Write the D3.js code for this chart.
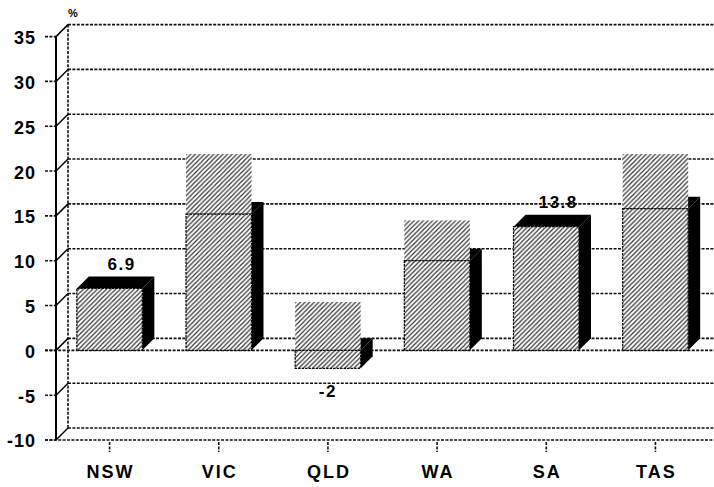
<!DOCTYPE html>
<html>
<head>
<meta charset="utf-8">
<script src="https://cdn.jsdelivr.net/npm/d3@7"></script>
<style>
  html, body { margin: 0; padding: 0; background: #fff; }
  svg { display: block; font-family: "Liberation Sans", Arial, sans-serif; }
</style>
</head>
<body>
<svg id="chart" width="714" height="487"></svg>
<script>
// Percentage change by state
const categories = ["NSW", "VIC", "QLD", "WA", "SA", "TAS"];
const values = [6.9, 15.2, -2, 10.0, 13.8, 15.8];
// Upper edge (in %) of the hatched panel drawn above some bars; null = none
const panelTop = [null, 21.9, 5.4, 14.5, null, 21.9];
// Value labels that are shown above/below bars
const valueLabels = ["6.9", null, "-2", null, "13.8", null];
const yTicks = [-10, -5, 0, 5, 10, 15, 20, 25, 30, 35];

const W = 714, H = 487;
const DX = 12, DY = 12; // depth offset of the 3D back plane

const svg = d3.select("#chart");

const x = d3.scaleBand()
  .domain(categories)
  .range([55, 710])
  .paddingInner(0.4)
  .paddingOuter(0.2);

const y = d3.scaleLinear().domain([-10, 35]).range([440, 36.6]);
const xLeft = 56;

// Diagonal hatch
const defs = svg.append("defs");
const P = 4.6;
const pat = defs.append("pattern")
  .attr("id", "hatch")
  .attr("patternUnits", "userSpaceOnUse")
  .attr("width", P).attr("height", P);
pat.append("rect").attr("width", P).attr("height", P).attr("fill", "#fff");
pat.append("path")
  .attr("d", `M${-P / 4},${P / 4} L${P / 4},${-P / 4} M0,${P} L${P},0 M${P * 0.75},${P * 1.25} L${P * 1.25},${P * 0.75}`)
  .attr("stroke", "#333").attr("stroke-width", 1.15);

const dash = "3,1.4";
const grid = svg.append("g")
  .attr("stroke", "#111").attr("stroke-width", 1.6)
  .attr("stroke-dasharray", dash).attr("fill", "none");

// Back wall grid lines
yTicks.forEach(t => {
  grid.append("line")
    .attr("x1", xLeft + DX).attr("x2", W)
    .attr("y1", y(t) - DY).attr("y2", y(t) - DY);
});
// Back wall vertical edge
grid.append("line")
  .attr("x1", xLeft + DX).attr("x2", xLeft + DX)
  .attr("y1", y(35) - DY).attr("y2", y(-10) - DY);
// Front edges at zero and at the floor
[0, -10].forEach(t => {
  grid.append("line")
    .attr("x1", xLeft - 11).attr("x2", W)
    .attr("y1", y(t)).attr("y2", y(t));
});
// Tick marks on the value axis
yTicks.forEach(t => {
  grid.append("line")
    .attr("x1", xLeft - 11).attr("x2", xLeft)
    .attr("y1", y(t)).attr("y2", y(t));
});
// Category tick marks under the floor
categories.forEach(c => {
  const cx = x(c) + x.bandwidth() / 2;
  grid.append("line")
    .attr("x1", cx).attr("x2", cx)
    .attr("y1", y(-10) + 2).attr("y2", y(-10) + 12);
});

// Side-wall diagonals joining front axis to back wall
const diag = svg.append("g").attr("stroke", "#000").attr("stroke-width", 1.5);
yTicks.forEach(t => {
  diag.append("line")
    .attr("x1", xLeft).attr("y1", y(t))
    .attr("x2", xLeft + DX).attr("y2", y(t) - DY);
});
// Front value axis
svg.append("line")
  .attr("x1", xLeft).attr("x2", xLeft)
  .attr("y1", y(35)).attr("y2", y(-10))
  .attr("stroke", "#000").attr("stroke-width", 2);

// Bars
const bars = svg.append("g");
categories.forEach((c, i) => {
  const v = values[i];
  const x0 = x(c), x1 = x0 + x.bandwidth();
  const yTop = y(Math.max(v, 0)), yBot = y(Math.min(v, 0));
  const g = bars.append("g");

  // side face
  g.append("path")
    .attr("d", `M${x1},${yTop} L${x1 + DX},${yTop - DY} L${x1 + DX},${yBot - DY} L${x1},${yBot} Z`)
    .attr("fill", "#000");
  // top face
  g.append("path")
    .attr("d", `M${x0},${yTop} L${x0 + DX},${yTop - DY} L${x1 + DX},${yTop - DY} L${x1},${yTop} Z`)
    .attr("fill", "#000");
  // front face
  g.append("rect")
    .attr("x", x0).attr("y", yTop)
    .attr("width", x.bandwidth()).attr("height", yBot - yTop)
    .attr("fill", "url(#hatch)")
    .attr("stroke", "#000").attr("stroke-width", 1.2)
    .attr("stroke-dasharray", "2.5,1");

  // hatched panel above the bar
  if (panelTop[i] != null) {
    g.append("rect")
      .attr("x", x0).attr("y", y(panelTop[i]))
      .attr("width", x.bandwidth()).attr("height", yTop - y(panelTop[i]) - 0.6)
      .attr("fill", "url(#hatch)");
  }

  if (valueLabels[i] != null) {
    const above = v >= 0;
    g.append("text")
      .attr("x", above ? (x0 + x1) / 2 + DX : (x0 + x1) / 2)
      .attr("y", above ? yTop - DY - 7 : yBot + 29)
      .attr("text-anchor", "middle")
      .attr("font-size", 17).attr("font-weight", "bold")
      .attr("letter-spacing", 1.5)
      .text(valueLabels[i]);
  }
});

// Value axis labels
svg.append("g").selectAll("text")
  .data(yTicks).join("text")
  .attr("x", 36).attr("y", d => y(d) + 1)
  .attr("dy", "0.36em")
  .attr("text-anchor", "end")
  .attr("font-size", 18).attr("font-weight", "bold")
  .attr("letter-spacing", 1)
  .text(d => d);

// Category labels
svg.append("g").selectAll("text")
  .data(categories).join("text")
  .attr("x", d => x(d) + x.bandwidth() / 2 + 1)
  .attr("y", 478)
  .attr("text-anchor", "middle")
  .attr("font-size", 18).attr("font-weight", "bold")
  .attr("letter-spacing", 2)
  .text(d => d);

// Unit label
svg.append("text")
  .attr("x", 68).attr("y", 17)
  .attr("font-size", 11).attr("font-weight", "bold")
  .text("%");
</script>
</body>
</html>
